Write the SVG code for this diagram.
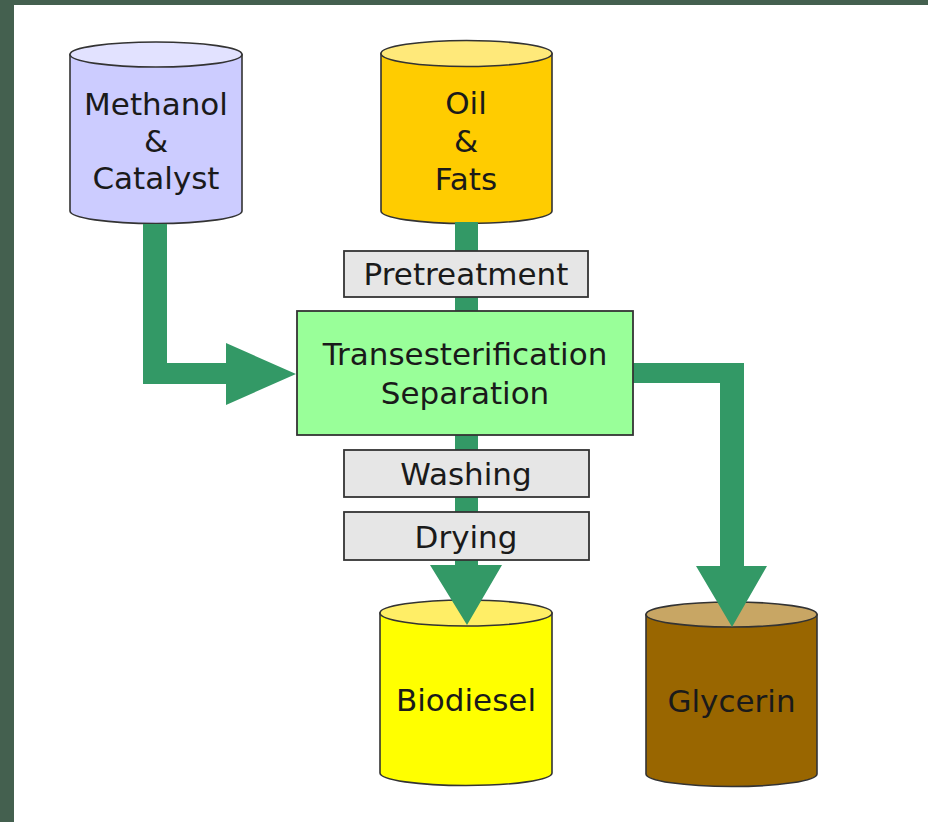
<svg xmlns="http://www.w3.org/2000/svg" width="928" height="822" viewBox="0 0 928 822">
  <style>
    .lbl { font-family: "DejaVu Sans", Verdana, sans-serif; font-size: 31px; fill: #1a1a1a; text-anchor: middle; }
    .edge { stroke: #333; stroke-width: 1.6; }
    .box { fill: #e6e6e6; stroke: #333; stroke-width: 1.8; }
    .flow { fill: #339966; }
  </style>

  <!-- frame -->
  <rect x="0" y="0" width="928" height="822" fill="#44604f"/>
  <rect x="14" y="5" width="914" height="817" fill="#ffffff"/>

  <!-- source tanks -->
  <g id="methanol">
    <path class="edge" fill="#ccccff" d="M70,54.5 L70,211 A86,12.5 0 0 0 242,211 L242,54.5 Z"/>
    <ellipse class="edge" fill="#e2e2ff" cx="156" cy="54.5" rx="86" ry="12.5"/>
    <text class="lbl" x="156" y="115">Methanol</text>
    <text class="lbl" x="156" y="152">&amp;</text>
    <text class="lbl" x="156" y="189">Catalyst</text>
  </g>

  <g id="oil">
    <path class="edge" fill="#ffcc00" d="M381,53.5 L381,211 A85.5,12.5 0 0 0 552,211 L552,53.5 Z"/>
    <ellipse class="edge" fill="#ffe97a" cx="466.5" cy="53.5" rx="85.5" ry="13"/>
    <text class="lbl" x="466" y="114">Oil</text>
    <text class="lbl" x="466" y="152">&amp;</text>
    <text class="lbl" x="466" y="190">Fats</text>
  </g>

  <!-- product tanks -->
  <g id="biodiesel">
    <path class="edge" fill="#ffff00" d="M380,613 L380,773 A86,12.5 0 0 0 552,773 L552,613 Z"/>
    <ellipse class="edge" fill="#ffee66" cx="466" cy="613" rx="86" ry="13"/>
    <text class="lbl" x="466" y="711">Biodiesel</text>
  </g>

  <g id="glycerin">
    <path class="edge" fill="#996600" d="M646,614.5 L646,774 A85.5,12.5 0 0 0 817,774 L817,614.5 Z"/>
    <ellipse class="edge" fill="#c8a664" cx="731.5" cy="614.5" rx="85.5" ry="12.5"/>
    <text class="lbl" x="731.5" y="712">Glycerin</text>
  </g>

  <!-- flow arrows -->
  <g id="connectors">
    <!-- methanol to reactor -->
    <path class="flow" d="M143,224 L167,224 L167,363 L226,363 L226,343 L296,374 L226,405 L226,384 L143,384 Z"/>
    <!-- oil through processing to biodiesel -->
    <path class="flow" d="M455,222 L478,222 L478,565 L502,565 L467,625 L430,565 L455,565 Z"/>
    <!-- reactor to glycerin -->
    <path class="flow" d="M630,363 L744,363 L744,566 L767,566 L732,627 L696,566 L720,566 L720,383 L630,383 Z"/>
  </g>

  <!-- process steps -->
  <g id="pretreatment">
    <rect class="box" x="344" y="251" width="244" height="46"/>
    <text class="lbl" x="466" y="285">Pretreatment</text>
  </g>

  <g id="reactor">
    <rect x="297" y="311" width="336" height="124" fill="#99ff99" stroke="#333" stroke-width="1.8"/>
    <text class="lbl" x="465" y="365">Transesterification</text>
    <text class="lbl" x="465" y="404">Separation</text>
  </g>

  <g id="washing">
    <rect class="box" x="344" y="450" width="245" height="47"/>
    <text class="lbl" x="466" y="485">Washing</text>
  </g>

  <g id="drying">
    <rect class="box" x="344" y="512" width="245" height="48"/>
    <text class="lbl" x="466" y="548">Drying</text>
  </g>
</svg>
